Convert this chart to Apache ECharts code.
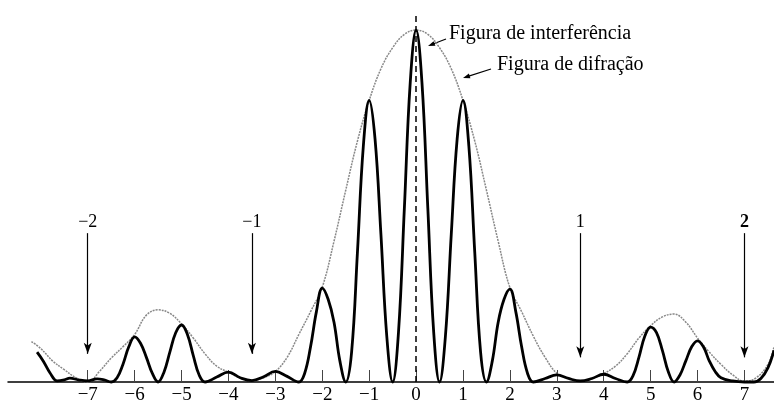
<!DOCTYPE html>
<html>
<head>
<meta charset="utf-8">
<script src="https://cdn.jsdelivr.net/npm/echarts@6/dist/echarts.min.js"></script>
<style>
html,body{margin:0;padding:0;background:#fff;}
#chart{width:774px;height:407px;}
</style>
</head>
<body>
<div id="chart"></div>
<script>
// Tick values on the horizontal axis
var tickValues = [-7,-6,-5,-4,-3,-2,-1,0,1,2,3,4,5,6,7];

// Interference pattern (thick black curve): [position, relative intensity]
var interferenceX = [-8.08,-7.95,-7.8,-7.65,-7.5,-7.38,-7.2,-7.0,-6.8,-6.65,-6.5,-6.375,-6.25,-6.125,-6.0,-5.875,-5.75,-5.625,-5.5,-5.375,-5.25,-5.125,-5.0,-4.875,-4.75,-4.625,-4.5,-4.25,-4.0,-3.75,-3.5,-3.25,-3.0,-2.75,-2.5,-2.375,-2.25,-2.125,-2.0,-1.875,-1.75,-1.625,-1.5,-1.375,-1.25,-1.125,-1.0,-0.875,-0.75,-0.625,-0.5,-0.375,-0.25,-0.125,0,0.125,0.25,0.375,0.5,0.625,0.75,0.875,1.0,1.125,1.25,1.375,1.5,1.625,1.75,1.875,2.0,2.125,2.25,2.375,2.5,2.75,3.0,3.25,3.5,3.75,4.0,4.25,4.5,4.625,4.75,4.875,5.0,5.125,5.25,5.375,5.5,5.625,5.75,5.875,6.0,6.125,6.25,6.375,6.5,6.75,7.0,7.2,7.35,7.5,7.63];
var interferenceY = [0.085,0.06,0.025,0.003,0.006,0.011,0.006,0.003,0.009,0.006,0.0,0.012,0.05,0.1,0.128,0.11,0.07,0.025,0.0,0.028,0.085,0.14,0.162,0.135,0.075,0.02,0.0,0.014,0.028,0.012,0.004,0.015,0.03,0.016,0.0,0.025,0.1,0.2,0.267,0.235,0.17,0.06,0.0,0.085,0.37,0.67,0.8,0.69,0.42,0.13,0.0,0.142,0.494,0.851,1.0,0.851,0.494,0.142,0.0,0.13,0.42,0.69,0.8,0.67,0.37,0.085,0.0,0.06,0.17,0.235,0.264,0.2,0.1,0.025,0.0,0.01,0.02,0.01,0.003,0.01,0.022,0.01,0.0,0.018,0.07,0.13,0.156,0.14,0.09,0.03,0.0,0.02,0.06,0.1,0.117,0.1,0.06,0.03,0.012,0.003,0.0,0.0,0.01,0.04,0.09];

// Diffraction envelope (grey dotted curve)
var envelopeX = [-8.2,-8.0,-7.75,-7.5,-7.25,-7.0,-6.75,-6.5,-6.25,-6.0,-5.75,-5.5,-5.25,-5.0,-4.75,-4.5,-4.25,-4.0,-3.75,-3.5,-3.25,-3.0,-2.75,-2.5,-2.25,-2.0,-1.75,-1.5,-1.25,-1.0,-0.75,-0.5,-0.25,0,0.25,0.5,0.75,1.0,1.25,1.5,1.75,2.0,2.25,2.5,2.75,3.0,3.25,3.5,3.75,4.0,4.25,4.5,4.75,5.0,5.25,5.5,5.75,6.0,6.25,6.5,6.75,7.0,7.25,7.5,7.63];
var envelopeY = [0.115,0.095,0.06,0.035,0.012,0.0,0.03,0.068,0.1,0.135,0.19,0.205,0.195,0.165,0.125,0.08,0.045,0.028,0.012,0.004,0.012,0.03,0.07,0.135,0.2,0.27,0.4,0.545,0.685,0.8,0.89,0.95,0.988,1.0,0.988,0.95,0.89,0.8,0.685,0.545,0.4,0.268,0.2,0.13,0.07,0.025,0.01,0.003,0.01,0.024,0.045,0.08,0.125,0.16,0.185,0.193,0.17,0.125,0.085,0.05,0.02,0.002,0.012,0.05,0.1];

// Diffraction orders marked by arrows
var orderPos = [-7,-3.5,3.5,7];
var orderLabels = ['\u22122','\u22121','1','2'];
var orderTop = 0.423;
var orderTip = [0.08,0.08,0.07,0.07];

function pairs(xs, ys){ return xs.map(function(x,i){ return [x, ys[i]]; }); }

var serif = 'Liberation Serif, Times New Roman, serif';

var arrowLines = orderPos.map(function(p,i){
  return [
    {coord:[p, orderTop], label:{show:true, position:'start', formatter:orderLabels[i], fontFamily:serif, fontSize:18, color:'#000', fontWeight: i===3 ? 'bold' : 'normal', distance:2}},
    {coord:[p, orderTip[i]]}
  ];
});

var chart = echarts.init(document.getElementById('chart'), null, {renderer:'canvas'});
chart.setOption({
  animation:false,
  backgroundColor:'#fff',
  grid:{left:8, right:0, top:9, bottom:25},
  xAxis:{
    type:'value', min:-8.7, max:7.63,
    splitLine:{show:false},
    axisLine:{show:true, lineStyle:{color:'#000', width:1.5}},
    axisTick:{show:true, inside:true, length:12, customValues:tickValues, lineStyle:{color:'#444', width:1}},
    axisLabel:{show:true, customValues:tickValues, margin:4, fontFamily:serif, fontSize:19, color:'#000',
      formatter:function(v){ return String(v).replace('-', '\u2212'); }}
  },
  yAxis:{type:'value', min:0, max:1.06, show:false},
  series:[
    {
      type:'line', name:'Figura de difração', data:pairs(envelopeX, envelopeY),
      smooth:0.4, symbol:'none', clip:false,
      lineStyle:{color:'#888', width:1.5, type:[2,1]},
      markLine:{
        silent:true, animation:false,
        data:[
          [{coord:[0,0], symbol:'none', lineStyle:{type:[6,4], color:'#000', width:1.5}, label:{show:false}},
           {coord:[0,1.05], symbol:'none'}]
        ].concat(arrowLines),
        symbol:['none','arrow'], symbolSize:[6,11],
        lineStyle:{color:'#000', width:1.2, type:'solid'}
      }
    },
    {
      type:'line', name:'Figura de interferência', data:pairs(interferenceX, interferenceY),
      smooth:0.4, symbol:'none', clip:false,
      lineStyle:{color:'#000', width:2.8}
    }
  ],
  graphic:[
    {type:'text', left:449, top:24, style:{text:'Figura de interferência', font:'20px '+serif, fill:'#000'}},
    {type:'line', shape:{x1:446, y1:39, x2:433, y2:44}, style:{stroke:'#000', lineWidth:1.2}},
    {type:'polygon', shape:{points:[[428,46],[435.4,45.8],[433.6,41.2]]}, style:{fill:'#000'}},
    {type:'text', left:497, top:55, style:{text:'Figura de difração', font:'20px '+serif, fill:'#000'}},
    {type:'line', shape:{x1:491, y1:69, x2:468, y2:76.4}, style:{stroke:'#000', lineWidth:1.2}},
    {type:'polygon', shape:{points:[[463,78],[470.4,78.3],[468.9,73.5]]}, style:{fill:'#000'}}
  ]
});
</script>
</body>
</html>
